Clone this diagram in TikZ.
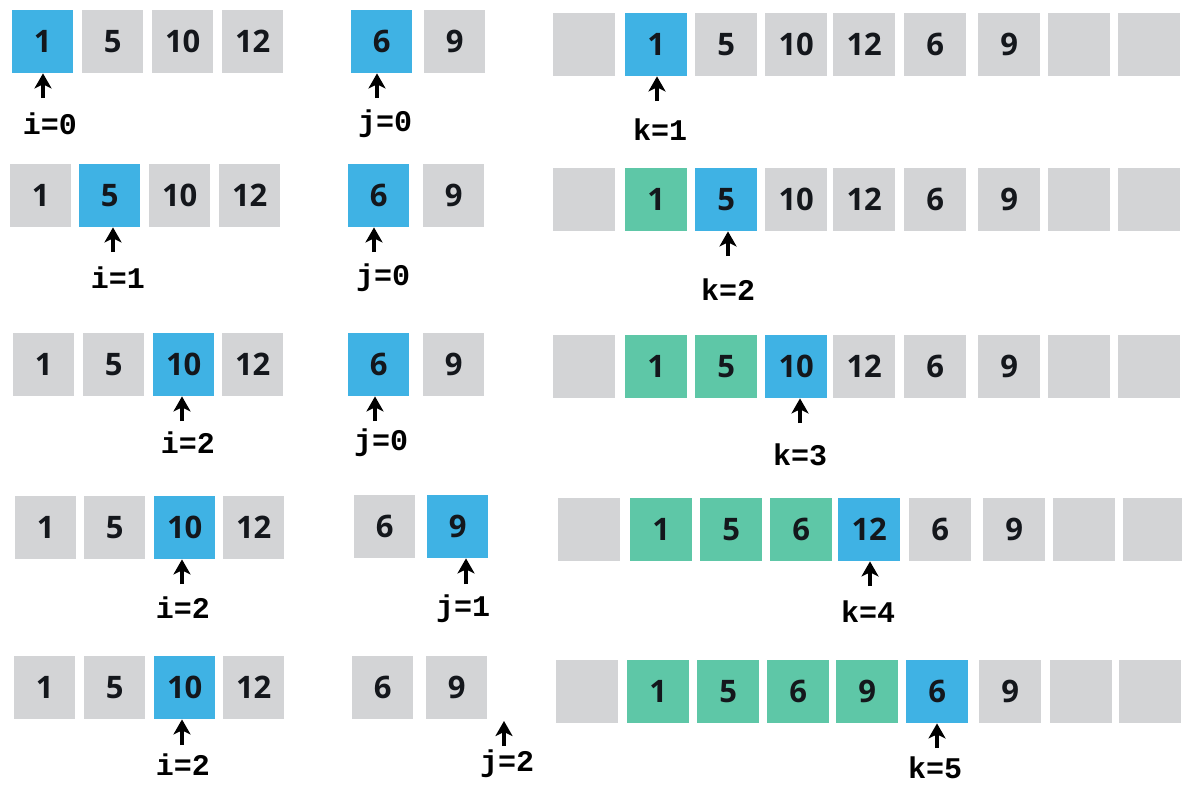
\documentclass[tikz,border=0pt]{standalone}
\usepackage{fontspec}
\setmainfont{Open Sans}
\newfontfamily\labfont{Liberation Mono}
\usetikzlibrary{arrows.meta}
\definecolor{cgray}{HTML}{D3D4D6}
\definecolor{cblue}{HTML}{3FB2E4}
\definecolor{cgreen}{HTML}{5EC7A7}
\definecolor{ctext}{HTML}{14171C}
\tikzset{
  cell/.style={minimum width=61pt, minimum height=63pt, inner sep=0pt, anchor=north west,
    font=\fontsize{31}{31}\selectfont\bfseries, text=ctext},
  gr/.style={cell, fill=cgray},
  bl/.style={cell, fill=cblue},
  gn/.style={cell, fill=cgreen},
  wide/.style={minimum width=62pt},
  ptr/.style={line width=3.4pt, -{Stealth[length=15pt,width=17pt,inset=4pt]}, black},
  lab/.style={font=\labfont\bfseries\fontsize{30}{30}\selectfont, text=black, inner sep=0pt}
}
\begin{document}
\begin{tikzpicture}[x=1pt,y=-1pt]
\useasboundingbox (0,0) rectangle (1182,784);
% ---------- row 1
\foreach \x/\v/\s [count=\c] in {12/1/bl,82/5/gr,152/10/gr,222/12/gr}
  \node[\s] (A1-\c) at (\x,10) {\v};
\foreach \x/\v/\s [count=\c] in {351/6/bl,424/9/gr}
  \node[\s] (B1-\c) at (\x,10) {\v};
\foreach \x/\v/\s [count=\c] in {553/{}/gr,625/1/bl,695/5/gr,765/10/gr,833/12/gr,904/6/gr,978/9/gr,1048/{}/gr,1118/{}/gr}
  \node[\s,wide] (C1-\c) at (\x,13) {\v};
% ---------- row 2
\foreach \x/\v/\s [count=\c] in {10/1/gr,79/5/bl,149/10/gr,219/12/gr}
  \node[\s] (A2-\c) at (\x,164) {\v};
\foreach \x/\v/\s [count=\c] in {348/6/bl,423/9/gr}
  \node[\s] (B2-\c) at (\x,164) {\v};
\foreach \x/\v/\s [count=\c] in {553/{}/gr,625/1/gn,695/5/bl,765/10/gr,833/12/gr,904/6/gr,978/9/gr,1048/{}/gr,1118/{}/gr}
  \node[\s,wide] (C2-\c) at (\x,168) {\v};
% ---------- row 3
\foreach \x/\v/\s [count=\c] in {13/1/gr,83/5/gr,153/10/bl,222/12/gr}
  \node[\s] (A3-\c) at (\x,333) {\v};
\foreach \x/\v/\s [count=\c] in {348/6/bl,423/9/gr}
  \node[\s] (B3-\c) at (\x,333) {\v};
\foreach \x/\v/\s [count=\c] in {553/{}/gr,625/1/gn,695/5/gn,765/10/bl,833/12/gr,904/6/gr,978/9/gr,1048/{}/gr,1118/{}/gr}
  \node[\s,wide] (C3-\c) at (\x,335) {\v};
% ---------- row 4
\foreach \x/\v/\s [count=\c] in {15/1/gr,84/5/gr,154/10/bl,223/12/gr}
  \node[\s] (A4-\c) at (\x,496) {\v};
\foreach \x/\v/\s [count=\c] in {354/6/gr,427/9/bl}
  \node[\s] (B4-\c) at (\x,495) {\v};
\foreach \x/\v/\s [count=\c] in {558/{}/gr,630/1/gn,700/5/gn,770/6/gn,838/12/bl,909/6/gr,983/9/gr,1053/{}/gr,1123/{}/gr}
  \node[\s,wide] (C4-\c) at (\x,498) {\v};
% ---------- row 5
\foreach \x/\v/\s [count=\c] in {14/1/gr,84/5/gr,154/10/bl,223/12/gr}
  \node[\s] (A5-\c) at (\x,656) {\v};
\foreach \x/\v/\s [count=\c] in {352/6/gr,426/9/gr}
  \node[\s] (B5-\c) at (\x,656) {\v};
\foreach \x/\v/\s [count=\c] in {556/{}/gr,627/1/gn,697/5/gn,767/6/gn,836/9/gn,906/6/bl,979/9/gr,1050/{}/gr,1119/{}/gr}
  \node[\s,wide] (C5-\c) at (\x,660) {\v};
% ---------- pointers
\coordinate (pi1) at (43,98);   \draw[ptr] (pi1) -- (pi1 |- A1-1.south);
\coordinate (pj1) at (377,98);  \draw[ptr] (pj1) -- (pj1 |- B1-1.south);
\coordinate (pk1) at (657,101); \draw[ptr] (pk1) -- (pk1 |- C1-2.south);
\node[lab] (li1) at (50,124) {i=0};
\node[lab] (lj1) at (385,124) {j=0};
\node[lab] (lk1) at (660,130) {k=1};

\coordinate (pi2) at (113,252); \draw[ptr] (pi2) -- (pi2 |- A2-2.south);
\coordinate (pj2) at (374,252); \draw[ptr] (pj2) -- (pj2 |- B2-1.south);
\coordinate (pk2) at (728,256); \draw[ptr] (pk2) -- (pk2 |- C2-3.south);
\node[lab] (li2) at (118,278) {i=1};
\node[lab] (lj2) at (383,278) {j=0};
\node[lab] (lk2) at (728,290) {k=2};

\coordinate (pi3) at (182,421); \draw[ptr] (pi3) -- (pi3 |- A3-3.south);
\coordinate (pj3) at (375,421); \draw[ptr] (pj3) -- (pj3 |- B3-1.south);
\coordinate (pk3) at (800,423); \draw[ptr] (pk3) -- (pk3 |- C3-4.south);
\node[lab] (li3) at (188,443) {i=2};
\node[lab] (lj3) at (381,443) {j=0};
\node[lab] (lk3) at (800,455) {k=3};

\coordinate (pi4) at (182,584); \draw[ptr] (pi4) -- (pi4 |- A4-3.south);
\coordinate (pj4) at (466,584); \draw[ptr] (pj4) -- (pj4 |- B4-2.south);
\coordinate (pk4) at (870,586); \draw[ptr] (pk4) -- (pk4 |- C4-5.south);
\node[lab] (li4) at (183,608) {i=2};
\node[lab] (lj4) at (463,609) {j=1};
\node[lab] (lk4) at (868,612) {k=4};

\coordinate (pi5) at (182,745); \draw[ptr] (pi5) -- (pi5 |- A5-3.south);
\coordinate (pj5) at (504,746); \coordinate (tj5) at (504,721); \draw[ptr] (pj5) -- (tj5);
\coordinate (pk5) at (937,748); \draw[ptr] (pk5) -- (pk5 |- C5-6.south);
\node[lab] (li5) at (183,765) {i=2};
\node[lab] (lj5) at (507,764) {j=2};
\node[lab] (lk5) at (935,768) {k=5};
\end{tikzpicture}
\end{document}
